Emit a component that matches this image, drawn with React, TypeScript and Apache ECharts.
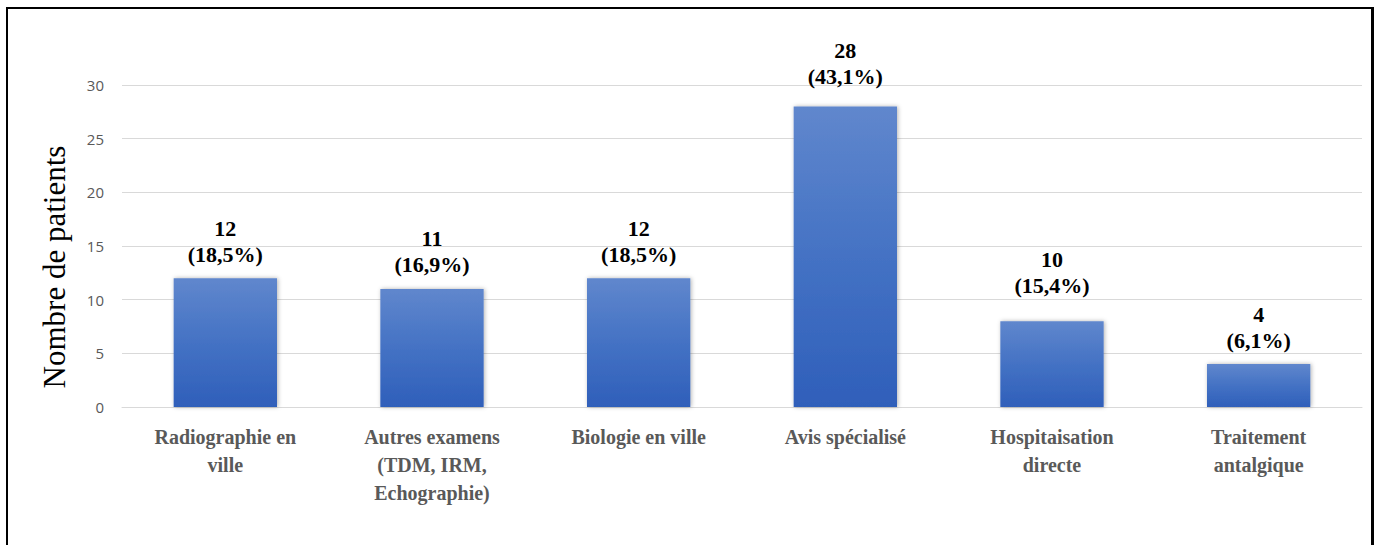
import React, { useEffect, useRef } from "react";
import * as echarts from "echarts";

const categories = [
  "Radiographie en\nville",
  "Autres examens\n(TDM, IRM,\nEchographie)",
  "Biologie en ville",
  "Avis spécialisé",
  "Hospitaisation\ndirecte",
  "Traitement\nantalgique",
];
const barValues = [12, 11, 12, 28, 8, 4];
const labelCounts = ["12", "11", "12", "28", "10", "4"];
const labelPercents = ["(18,5%)", "(16,9%)", "(18,5%)", "(43,1%)", "(15,4%)", "(6,1%)"];
const labelExtraOffset = [0, 0, 0, -6, -12, 0];
const yTicks = { min: 0, max: 30, interval: 5 };
const yTitle = "Nombre de patients";

export default function App() {
  const ref = useRef<HTMLDivElement>(null);
  useEffect(() => {
    if (!ref.current) return;
    const chart = echarts.init(ref.current, null, { renderer: "svg" });
    chart.setOption({
      animation: false,
      grid: { left: 122, right: 14, top: 85, bottom: 138, containLabel: false },
      graphic: [
        {
          type: "text",
          x: 54,
          y: 267,
          rotation: Math.PI / 2,
          style: {
            text: yTitle,
            fontFamily: "Liberation Serif",
            fontSize: 31,
            fill: "#000000",
            textAlign: "center",
            textVerticalAlign: "middle",
          },
        },
      ],
      xAxis: {
        type: "category",
        data: categories,
        axisLine: { show: true, lineStyle: { color: "#d9d9d9", width: 1 } },
        axisTick: { show: false },
        axisLabel: {
          interval: 0,
          margin: 16,
          color: "#595959",
          fontFamily: "Liberation Serif",
          fontWeight: "bold",
          fontSize: 20,
          lineHeight: 28,
        },
      },
      yAxis: {
        type: "value",
        min: yTicks.min,
        max: yTicks.max,
        interval: yTicks.interval,
        axisLine: { show: false },
        axisTick: { show: false },
        splitLine: { lineStyle: { color: "#d9d9d9", width: 1 } },
        axisLabel: {
          margin: 18,
          color: "#595959",
          fontFamily: "Open Sans",
          fontSize: 15,
        },
      },
      series: [
        {
          type: "bar",
          barWidth: "50%",
          data: barValues.map((v, i) => ({
            value: v,
            label: { offset: [0, labelExtraOffset[i]] },
          })),
          itemStyle: {
            color: new echarts.graphic.LinearGradient(0, 0, 0, 1, [
              { offset: 0, color: "#6087cd" },
              { offset: 0.5, color: "#4472c4" },
              { offset: 1, color: "#2f5fba" },
            ]),
            shadowBlur: 4,
            shadowColor: "rgba(0,0,0,0.3)",
            shadowOffsetX: 1,
            shadowOffsetY: 0,
          },
          label: {
            show: true,
            position: "top",
            distance: 11,
            formatter: (p: any) => labelCounts[p.dataIndex] + "\n" + labelPercents[p.dataIndex],
            fontFamily: "Liberation Serif",
            fontWeight: "bold",
            fontSize: 22,
            lineHeight: 26,
            color: "#000000",
          },
        },
      ],
    });
    return () => chart.dispose();
  }, []);
  return (
    <div style={{ position: "fixed", left: 0, top: 0, width: 1376, height: 545, background: "#fff" }}>
      <div ref={ref} style={{ position: "absolute", left: 0, top: 0, width: 1376, height: 545 }} />
      <div
        style={{
          position: "absolute",
          left: 6,
          top: 7,
          width: 1363,
          height: 560,
          border: "2px solid #000",
          borderRight: "3px solid #000",
          pointerEvents: "none",
        }}
      />
    </div>
  );
}
